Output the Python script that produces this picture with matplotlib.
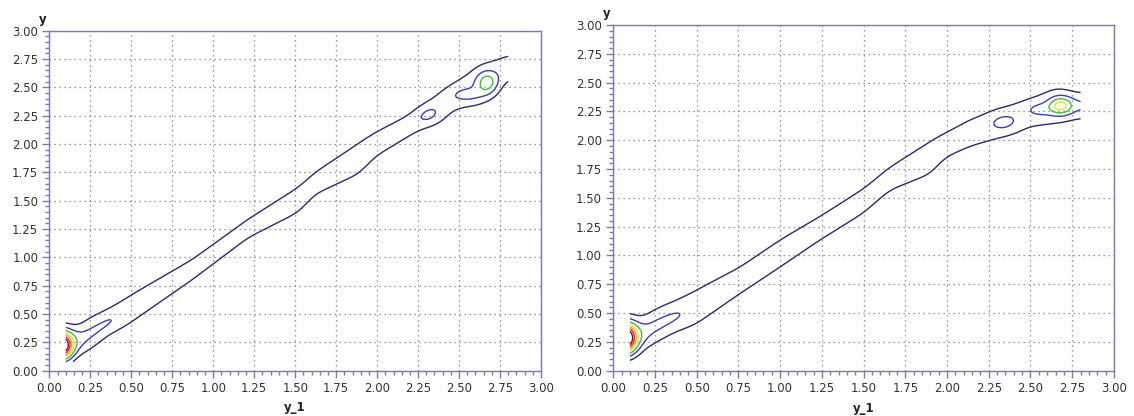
import numpy as np
import matplotlib
matplotlib.use("Agg")
import matplotlib.pyplot as plt
from matplotlib.ticker import MultipleLocator

# ---- data: ridge edges of the outer contour and peaks ----
left_ridge_x = [0.10, 0.17, 0.24, 0.365, 0.49, 0.87, 1.22, 1.52, 1.63, 1.89, 2.00, 2.24, 2.38, 2.50, 2.63, 2.73, 2.80]
left_ridge_upper = [0.40, 0.39, 0.46, 0.55, 0.66, 0.98, 1.345, 1.62, 1.76, 2.01, 2.11, 2.29, 2.45, 2.57, 2.68, 2.74, 2.78]
left_ridge_lower = [0.10, 0.14, 0.18, 0.32, 0.42, 0.80, 1.18, 1.40, 1.565, 1.74, 1.90, 2.11, 2.23, 2.32, 2.37, 2.48, 2.57]
left_ridge_amp = [2.4, 2.3, 2.22, 2.15, 1.7, 1.6, 1.6, 1.6, 1.6, 1.6, 1.6, 1.6, 1.6, 1.6, 1.6, 1.6, 1.6]
# peaks: x, y, sx, sy, height
left_peaks = [
    (0.07, 0.22, 0.0475, 0.08, 7.5),
    (2.32, 2.25, 0.06, 0.065, 0.7),
    (2.67, 2.54, 0.045, 0.07, 2.1),
    (2.56, 2.43, 0.07, 0.045, 0.85),
]

right_ridge_x = [0.10, 0.17, 0.26, 0.36, 0.50, 0.76, 1.00, 1.24, 1.50, 1.66, 1.90, 2.00, 2.14, 2.26, 2.42, 2.50, 2.66, 2.80]
right_ridge_upper = [0.47, 0.46, 0.54, 0.60, 0.70, 0.90, 1.135, 1.34, 1.58, 1.77, 1.99, 2.07, 2.18, 2.24, 2.32, 2.36, 2.45, 2.41]
right_ridge_lower = [0.14, 0.18, 0.25, 0.33, 0.41, 0.67, 0.90, 1.135, 1.37, 1.57, 1.71, 1.86, 1.95, 2.00, 2.08, 2.12, 2.15, 2.19]
right_ridge_amp = [2.4, 2.3, 2.22, 2.15, 1.75, 1.6, 1.6, 1.6, 1.6, 1.6, 1.6, 1.6, 1.6, 1.6, 1.6, 1.65, 1.95, 2.1]
right_peaks = [
    (0.07, 0.28, 0.0475, 0.085, 7.5),
    (2.34, 2.155, 0.06, 0.06, 0.7),
    (2.68, 2.30, 0.045, 0.05, 2.6),
    (2.56, 2.27, 0.06, 0.04, 0.6),
]

levels = [1, 2, 3, 4, 5, 6, 7]
level_colors = ["#2a2a6e", "#3c3cb0", "#40c040", "#e8e040", "#f0a030", "#e02828", "#7a0a30"]

SPINE = "#7a7ab8"
GRID = "#7a7a7a"
TEXT = "#333333"


def smooth_x(Z, sigma):
    # soften the kinks of the piecewise ridge along x only
    k = np.arange(-3 * sigma, 3 * sigma + 1)
    k = np.exp(-0.5 * (k / sigma) ** 2)
    k /= k.sum()
    n = len(k) // 2
    P = np.pad(Z, ((0, 0), (n, n)), mode="edge")
    P = np.apply_along_axis(lambda r: np.convolve(r, k, mode="same"), 1, P)
    return P[:, n:-n]


def density(rx, up, lo, amp, peaks):
    gx = np.linspace(0.1, 2.8, 400)
    gy = np.linspace(0.08, 2.8, 400)
    X, Y = np.meshgrid(gx, gy)
    up = np.asarray(up)
    lo = np.asarray(lo)
    c = np.interp(X, rx, (up + lo) / 2)
    hw = np.interp(X, rx, (up - lo) / 2)
    A = np.interp(X, rx, amp)
    s = hw / np.sqrt(2 * np.log(A / levels[0]))
    Z = A * np.exp(-0.5 * ((Y - c) / s) ** 2)
    Z = smooth_x(Z, 5)
    for px, py, sx, sy, h in peaks:
        Z += h * np.exp(-0.5 * (((X - px) / sx) ** 2 + ((Y - py) / sy) ** 2))
    return X, Y, Z


def style_axes(ax):
    ax.set_xlim(0, 3)
    ax.set_ylim(0, 3)
    ax.xaxis.set_major_locator(MultipleLocator(0.25))
    ax.yaxis.set_major_locator(MultipleLocator(0.25))
    ax.xaxis.set_minor_locator(MultipleLocator(0.05))
    ax.yaxis.set_minor_locator(MultipleLocator(0.05))
    ax.xaxis.set_major_formatter(lambda v, p: f"{v:.2f}")
    ax.yaxis.set_major_formatter(lambda v, p: f"{v:.2f}")
    ax.tick_params(which="major", direction="out", length=5, width=1, color=SPINE,
                   labelsize=8.5, labelcolor=TEXT, pad=3)
    ax.tick_params(which="minor", direction="out", length=3, width=1, color=SPINE)
    for sp in ax.spines.values():
        sp.set_color(SPINE)
        sp.set_linewidth(1.0)
    ax.grid(True, which="major", linestyle=(0, (1, 3)), color=GRID, linewidth=0.9)
    ax.set_axisbelow(True)
    ax.text(-0.005, 1.015, "y", transform=ax.transAxes, ha="right", va="bottom",
            fontsize=8.5, fontweight="bold", color="#222222")
    ax.text(0.5, -0.09, "y_1", transform=ax.transAxes, ha="center", va="top",
            fontsize=8.5, fontweight="bold", color="#222222")


fig = plt.figure(figsize=(11.34, 4.16), dpi=100)
ax1 = fig.add_axes([0.0435, 0.1089, 0.4336, 0.8173])
ax2 = fig.add_axes([0.5408, 0.1089, 0.4415, 0.8310])

for ax, rx, up, lo, amp, pk in [
    (ax1, left_ridge_x, left_ridge_upper, left_ridge_lower, left_ridge_amp, left_peaks),
    (ax2, right_ridge_x, right_ridge_upper, right_ridge_lower, right_ridge_amp, right_peaks),
]:
    X, Y, Z = density(rx, up, lo, amp, pk)
    ax.contour(X, Y, Z, levels=levels, colors=level_colors, linewidths=1.0)
    style_axes(ax)

fig.savefig("out.png", dpi=100)
